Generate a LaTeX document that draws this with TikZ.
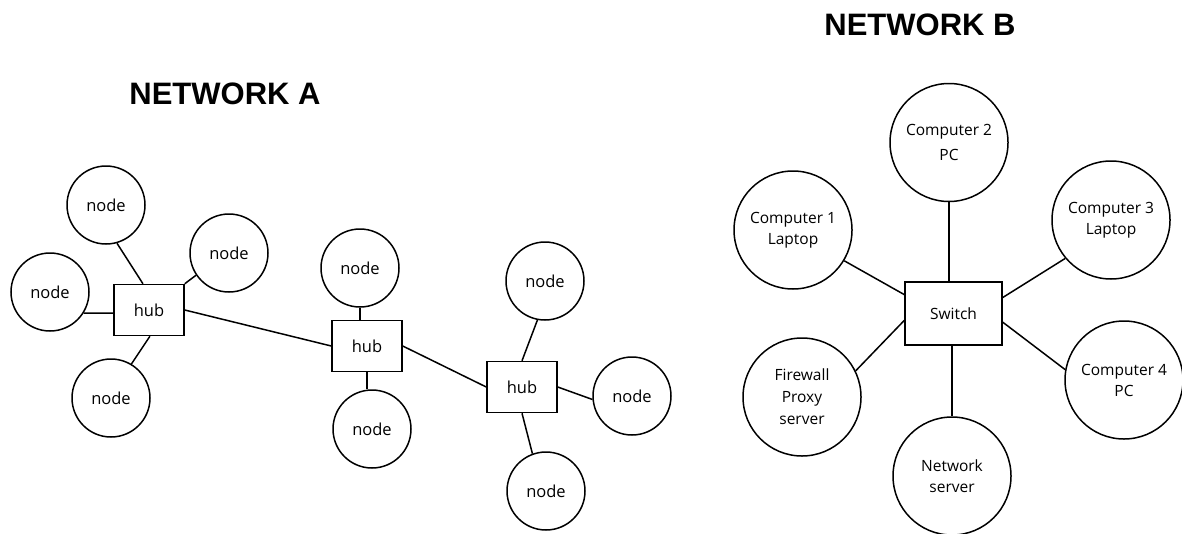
\documentclass[tikz,border=0pt]{standalone}
\usepackage{fontspec}
\setmainfont{Open Sans}
\newfontfamily\titlefont{Liberation Sans}
\begin{document}
\begin{tikzpicture}[x=1pt,y=-1pt,
  line width=1.5pt,
  title/.style={font=\titlefont\bfseries\fontsize{31}{36}\selectfont, inner sep=0pt},
  nodecirc/.style={draw, circle, minimum size=78pt, inner sep=0pt, font=\fontsize{16.5}{19}\selectfont},
  hubbox/.style={draw, rectangle, minimum width=70pt, minimum height=51pt, inner sep=0pt, font=\fontsize{16.5}{19}\selectfont},
  bigcirc/.style={draw, circle, minimum size=118pt, inner sep=0pt, align=center, font=\fontsize{15.5}{21}\selectfont},
  switchbox/.style={draw, rectangle, minimum width=97pt, minimum height=63pt, inner sep=0pt, font=\fontsize{15.5}{19}\selectfont},
  link/.style={draw, line width=1.5pt}
]
\useasboundingbox (0,0) rectangle (1182,533);

% Titles
\node[title] (ta) at (225,94) {NETWORK A};
\node[title] (tb) at (920,25) {NETWORK B};

% Network A
\node[hubbox] (h1) at (149,310) {hub};
\node[hubbox] (h2) at (367,346) {hub};
\node[hubbox] (h3) at (522,387) {hub};

\node[nodecirc] (n1) at (106,205) {node};
\node[nodecirc] (n2) at (229,253) {node};
\node[nodecirc] (n3) at (50,292) {node};
\node[nodecirc] (n4) at (111,398) {node};
\node[nodecirc] (n5) at (360,268) {node};
\node[nodecirc] (n6) at (372,429) {node};
\node[nodecirc] (n7) at (545,281) {node};
\node[nodecirc] (n8) at (632,396) {node};
\node[nodecirc] (n9) at (546,491) {node};

\draw[link] (n1.-74) -- (h1.103);
\draw[link] (n2.214) -- (h1.north east);
\draw[link] (n3.-32) -- (h1.185);
\draw[link] (n4.59) -- (h1.272);
\draw[link] (h1.east) -- (h2.west);
\draw[link] (n5.south) -- (n5.south |- h2.north);
\draw[link] (h2.south) -- (h2.south |- n6.north);
\draw[link] (h2.east) -- (h3.west);
\draw[link] (n7.-101) -- (h3.north);
\draw[link] (h3.east) -- (n8.185);
\draw[link] (h3.south) -- (n9.110);

% Network B
\node[switchbox] (sw) at (953.5,313.5) {Switch};
\node[bigcirc] (c2) at (949,142.5) {Computer 2\\[4pt]PC};
\node[bigcirc] (c1) at (793,230) {Computer 1\\Laptop};
\node[bigcirc] (c3) at (1111,220) {Computer 3\\Laptop};
\node[bigcirc] (c4) at (1124,380) {Computer 4\\PC};
\node[bigcirc] (fw) at (802,397) {Firewall\\[1pt]Proxy\\[1pt]server};
\node[bigcirc] (ns) at (952,476) {Network\\server};

\draw[link] (c2.south) -- (c2.south |- sw.north);
\draw[link] (ns.north |- sw.south) -- (ns.north);
\draw[link] (c1.-31) -- (sw.159);
\draw[link] (sw.18) -- (c3.220);
\draw[link] (sw.-10) -- (c4.170);
\draw[link] (sw.188) -- (fw.26);
\end{tikzpicture}
\end{document}
